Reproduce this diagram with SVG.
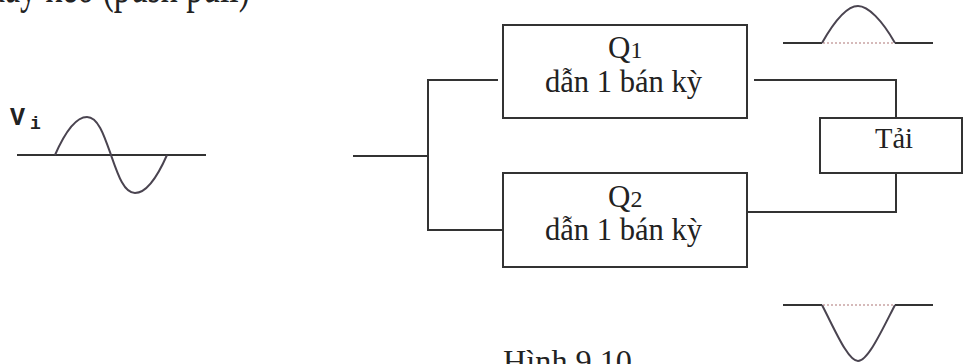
<svg xmlns="http://www.w3.org/2000/svg" width="965" height="364" viewBox="0 0 965 364">
<style>
.ln{stroke:#333;stroke-width:2;fill:none}
.box{fill:#fff;stroke:#333;stroke-width:2}
.wave{stroke:#4a4450;stroke-width:2;fill:none}
.dot{stroke:#c9a4a4;stroke-width:1.5;stroke-dasharray:2 2;fill:none}
.t{font-family:"Liberation Serif","Times New Roman",serif;fill:#222}
.m{font-family:"Liberation Mono","Courier New",monospace;fill:#222;font-weight:bold}
</style>
<rect width="965" height="364" fill="#fff"/>
<text class="t" x="-12" y="2" font-size="50" textLength="262" lengthAdjust="spacingAndGlyphs">đẩy kéo (push pull)</text>
<g id="input">
<text class="m" x="10" y="125" font-size="25">V</text>
<text class="m" x="30" y="129" font-size="18">i</text>
<line class="ln" x1="17" y1="155" x2="206" y2="155"/>
<path class="wave" d="M55,155 C66,130 76,117 87,117 C98,117 104,135 111,155 C118,175 124,193 135,193 C146,193 156,180 167,155"/>
</g>
<g id="connectors">
<polyline class="ln" points="353,156 428,156"/>
<polyline class="ln" points="498,80 428,80 428,230 503,230"/>
<polyline class="ln" points="754,80 896,80 896,118"/>
<polyline class="ln" points="896,173 896,212 746,212"/>
</g>
<g id="q1">
<rect class="box" x="503" y="25" width="244" height="93"/>
<text class="t" x="608" y="58" font-size="31">Q<tspan font-size="24">1</tspan></text>
<text class="t" x="545" y="92" font-size="32" textLength="157" lengthAdjust="spacingAndGlyphs">dẫn 1 bán kỳ</text>
</g>
<g id="q2">
<rect class="box" x="503" y="173" width="244" height="94"/>
<text class="t" x="608" y="207" font-size="31">Q<tspan font-size="24">2</tspan></text>
<text class="t" x="545" y="240" font-size="32" textLength="157" lengthAdjust="spacingAndGlyphs">dẫn 1 bán kỳ</text>
</g>
<g id="tai">
<rect class="box" x="820" y="118" width="142" height="55"/>
<text class="t" x="875" y="148" font-size="30" textLength="38" lengthAdjust="spacingAndGlyphs">Tải</text>
</g>
<g id="out-top">
<line class="ln" x1="783" y1="43" x2="822" y2="43"/>
<line class="ln" x1="895" y1="43" x2="933" y2="43"/>
<line class="dot" x1="823" y1="43" x2="894" y2="43"/>
<path class="wave" d="M822,43 C835,20 848,6 858,6 C868,6 882,20 895,43"/>
</g>
<g id="out-bottom">
<line class="ln" x1="783" y1="305" x2="822" y2="305"/>
<line class="ln" x1="895" y1="305" x2="933" y2="305"/>
<line class="dot" x1="823" y1="305" x2="894" y2="305"/>
<path class="wave" d="M822,305 C835,330 848,361 858,361 C868,361 882,330 895,305"/>
</g>
<text class="t" x="503" y="372" font-size="31" textLength="129" lengthAdjust="spacingAndGlyphs">Hình 9.10</text>
</svg>
